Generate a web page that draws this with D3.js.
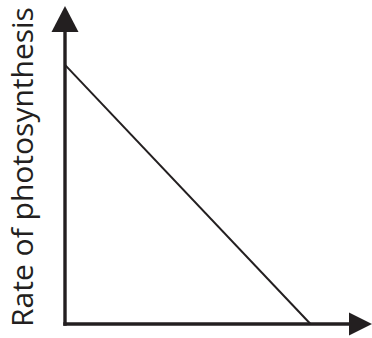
<!DOCTYPE html>
<html>
<head>
<meta charset="utf-8">
<script src="https://cdn.jsdelivr.net/npm/d3@7"></script>
<style>
  html, body { margin: 0; padding: 0; background: #fff; }
  svg { display: block; }
</style>
</head>
<body>
<svg id="chart" width="372" height="338"></svg>
<script>
// Light intensity (arbitrary units) and the matching rate of photosynthesis
const xValues = [0, 8.05];
const rateValues = [8.15, 0];
const yLabel = "Rate of photosynthesis";

const W = 372, H = 338;
const ink = "#231f20";
const svg = d3.select("#chart");

const x = d3.scaleLinear().domain([0, 10]).range([65, 370]);
const y = d3.scaleLinear().domain([0, 10]).range([324, 6]);

// Axes: vertical and horizontal strokes
const x0 = x(0), y0 = y(0);
svg.append("line")
  .attr("x1", x0).attr("y1", y0 + 1.7)
  .attr("x2", x0).attr("y2", y(10) + 20)
  .attr("stroke", ink).attr("stroke-width", 3.4);
svg.append("line")
  .attr("x1", x0 - 1.7).attr("y1", y0)
  .attr("x2", x(10) - 18).attr("y2", y0)
  .attr("stroke", ink).attr("stroke-width", 3.4);

// Arrow heads at the end of each axis
const yTip = y(10);
svg.append("path")
  .attr("d", `M${x0},${yTip} L${x0 - 13.5},${yTip + 26} L${x0 + 13.5},${yTip + 26} Z`)
  .attr("fill", ink);
const xTip = x(10) + 2;
svg.append("path")
  .attr("d", `M${xTip},${y0} L${xTip - 23},${y0 - 11.5} L${xTip - 23},${y0 + 11.5} Z`)
  .attr("fill", ink);

// Data line
const pts = xValues.map((v, i) => [v, rateValues[i]]);
svg.append("path")
  .datum(pts)
  .attr("d", d3.line().x(d => x(d[0])).y(d => y(d[1])))
  .attr("fill", "none")
  .attr("stroke", ink)
  .attr("stroke-width", 2);

// Y axis title
svg.append("text")
  .attr("transform", `translate(33,167) rotate(-90)`)
  .attr("text-anchor", "middle")
  .attr("font-family", "'Open Sans', sans-serif")
  .attr("font-size", 30)
  .attr("fill", ink)
  .text(yLabel);
</script>
</body>
</html>
